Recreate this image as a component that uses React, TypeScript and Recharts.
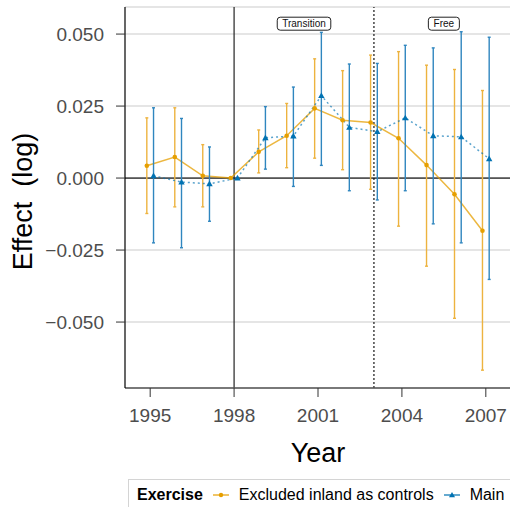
import { useLayoutEffect, useRef, useState } from 'react';
import { ComposedChart, Line, XAxis, YAxis, CartesianGrid, ReferenceLine, ReferenceDot, ErrorBar } from 'recharts';

// Event-study estimates, one per year, with 95% confidence bounds (1998 is the reference year)
const years = [1995, 1996, 1997, 1998, 1999, 2000, 2001, 2002, 2003, 2004, 2005, 2006, 2007];

const excludedEst = [0.0043, 0.0073, 0.0008, 0, 0.0091, 0.0147, 0.0242, 0.0201, 0.0193, 0.0138, 0.0045, -0.0056, -0.0183];
const excludedLo = [-0.0123, -0.01, -0.01, 0, 0.0018, 0.0036, 0.0069, 0.0029, -0.0039, -0.0167, -0.0306, -0.0487, -0.0667];
const excludedHi = [0.0209, 0.0244, 0.0116, 0, 0.0167, 0.0259, 0.0414, 0.0373, 0.0427, 0.0439, 0.0392, 0.0377, 0.0304];

const mainEst = [0.0008, -0.0014, -0.002, 0, 0.014, 0.0146, 0.0286, 0.0176, 0.0161, 0.0209, 0.0147, 0.0143, 0.0067];
const mainLo = [-0.0225, -0.0242, -0.015, 0, 0.0031, -0.0029, 0.0044, -0.0044, -0.0076, -0.0044, -0.0159, -0.0225, -0.0352];
const mainHi = [0.0244, 0.0207, 0.0108, 0, 0.0248, 0.0316, 0.0506, 0.0396, 0.0398, 0.0461, 0.0452, 0.0508, 0.0489];

const xTicks = [1995, 1998, 2001, 2004, 2007];
const yTicks = [-0.05, -0.025, 0, 0.025, 0.05];

// policy phases: reform year, start of free period, and where each phase name sits
const reformYear = 1998;
const freeYear = 2003;
const phases = [
  { name: 'Transition', year: 2000.5 },
  { name: 'Free', year: 2005.5 },
];

const ORANGE = '#E69F00';
const BLUE = '#0072B2';
const DODGE = 0.12;
const LABEL_Y = 0.0536;
const FONT = "'Liberation Sans', Arial, Helvetica, sans-serif";

const buildSeries = (est: number[], lo: number[], hi: number[], shift: number) =>
  years.map((year, i) => ({
    x: year + shift,
    y: est[i],
    err: [est[i] - lo[i], hi[i] - est[i]],
  }));

const excludedData = buildSeries(excludedEst, excludedLo, excludedHi, -DODGE);
const mainData = buildSeries(mainEst, mainLo, mainHi, DODGE);

const fmt = (v: number) => (v < 0 ? '\u2212' : '') + Math.abs(v).toFixed(3);

const renderCircle = (p: any) => (
  <circle key={`c-${p.index}`} cx={p.cx} cy={p.cy} r={2.3} fill={ORANGE} />
);

const trianglePath = (cx: number, cy: number, s: number) =>
  `M${cx},${cy - s}L${cx + s},${cy + s * 0.75}L${cx - s},${cy + s * 0.75}Z`;

const renderTriangle = (p: any) => (
  <path key={`t-${p.index}`} d={trianglePath(p.cx, p.cy, 3.2)} fill={BLUE} />
);

// boxed text label, box sized to the measured text
function PhaseLabel({ cx, cy, text }: { cx: number; cy: number; text: string }) {
  const ref = useRef<SVGTextElement>(null);
  const [w, setW] = useState(text.length * 5);
  useLayoutEffect(() => {
    if (ref.current) setW(ref.current.getBBox().width);
  }, [text]);
  const bw = w + 10;
  return (
    <g>
      <rect x={cx - bw / 2} y={cy - 6.5} width={bw} height={13} rx={3} fill="#fff" stroke="#222" strokeWidth={1} />
      <text ref={ref} x={cx} y={cy + 3.6} textAnchor="middle" fontSize={10} fill="#111" fontFamily={FONT}>
        {text}
      </text>
    </g>
  );
}

function LegendKey({ color, marker }: { color: string; marker: 'circle' | 'triangle' }) {
  return (
    <svg width={16} height={12} style={{ display: 'block' }}>
      <line x1={0} y1={6} x2={16} y2={6} stroke={color} strokeWidth={1.5} strokeOpacity={0.8} />
      {marker === 'circle' ? (
        <circle cx={8} cy={6} r={2.2} fill={color} />
      ) : (
        <path d={trianglePath(8, 6, 3)} fill={color} />
      )}
    </svg>
  );
}

export default function App() {
  return (
    <div
      style={{
        position: 'fixed',
        left: 0,
        top: 0,
        width: 510,
        height: 507,
        overflow: 'hidden',
        background: '#fff',
        fontFamily: FONT,
      }}
    >
      <ComposedChart width={520} height={507} margin={{ top: 7, right: 9, bottom: 0, left: 0 }}>
        <CartesianGrid vertical={false} stroke="#dcdcdc" strokeWidth={1.5} />
        <XAxis
          type="number"
          dataKey="x"
          domain={[1994.1, 2007.9]}
          ticks={xTicks}
          allowDataOverflow
          height={119}
          tickSize={9}
          tickMargin={12}
          tick={{ fill: '#4d4d4d', fontSize: 19 }}
          tickLine={{ stroke: '#333' }}
          axisLine={{ stroke: '#555', strokeWidth: 1.5 }}
          label={(props: any) => {
            const vb = props.viewBox;
            return (
              <text x={vb.x + vb.width / 2} y={462} textAnchor="middle" fontSize={27} fill="#000">
                Year
              </text>
            );
          }}
        />
        <YAxis
          type="number"
          domain={[-0.0729, 0.0594]}
          ticks={yTicks}
          allowDataOverflow
          width={125}
          tickSize={9}
          tickMargin={12}
          tickFormatter={fmt}
          tick={{ fill: '#4d4d4d', fontSize: 19 }}
          tickLine={{ stroke: '#333' }}
          axisLine={{ stroke: '#000', strokeWidth: 1.2 }}
          label={(props: any) => {
            const vb = props.viewBox;
            const cy = vb.y + vb.height / 2 + 4;
            return (
              <text
                x={32}
                y={cy}
                transform={`rotate(-90, 32, ${cy})`}
                textAnchor="middle"
                fontSize={27}
                fill="#000"
                style={{ whiteSpace: 'pre' }}
              >
                {'Effect  (log)'}
              </text>
            );
          }}
        />
        <ReferenceLine y={0} stroke="#555" strokeWidth={1.8} />
        <ReferenceLine x={reformYear} stroke="#222" strokeWidth={1.2} />
        <ReferenceLine x={freeYear} stroke="#000" strokeWidth={1.1} strokeDasharray="2 2" />

        <Line
          data={excludedData}
          dataKey="y"
          stroke={ORANGE}
          strokeOpacity={0.75}
          strokeWidth={1.5}
          dot={renderCircle}
          activeDot={false}
          isAnimationActive={false}
        >
          <ErrorBar dataKey="err" direction="y" width={1.5} stroke="#EDB33F" strokeWidth={1.4} />
        </Line>
        <Line
          data={mainData}
          dataKey="y"
          stroke={BLUE}
          strokeOpacity={0.65}
          strokeWidth={1.5}
          strokeDasharray="2 3"
          dot={renderTriangle}
          activeDot={false}
          isAnimationActive={false}
        >
          <ErrorBar dataKey="err" direction="y" width={1.5} stroke="#2F86BF" strokeWidth={1.4} />
        </Line>

        {phases.map((ph) => (
          <ReferenceDot
            key={ph.name}
            x={ph.year}
            y={LABEL_Y}
            shape={(p: any) => <PhaseLabel cx={p.cx} cy={p.cy} text={ph.name} />}
          />
        ))}
      </ComposedChart>

      {/* legend strip along the bottom */}
      <div
        style={{
          position: 'absolute',
          left: 128,
          top: 479,
          width: 400,
          height: 32,
          border: '1px solid #d4d4d4',
          boxSizing: 'border-box',
          display: 'flex',
          alignItems: 'center',
          paddingLeft: 8,
          fontSize: 16,
          color: '#000',
          background: '#fff',
        }}
      >
        <span style={{ fontWeight: 'bold', marginRight: 10 }}>Exercise</span>
        <LegendKey color={ORANGE} marker="circle" />
        <span style={{ marginLeft: 10, marginRight: 10 }}>Excluded inland as controls</span>
        <LegendKey color={BLUE} marker="triangle" />
        <span style={{ marginLeft: 10 }}>Main</span>
      </div>
    </div>
  );
}
